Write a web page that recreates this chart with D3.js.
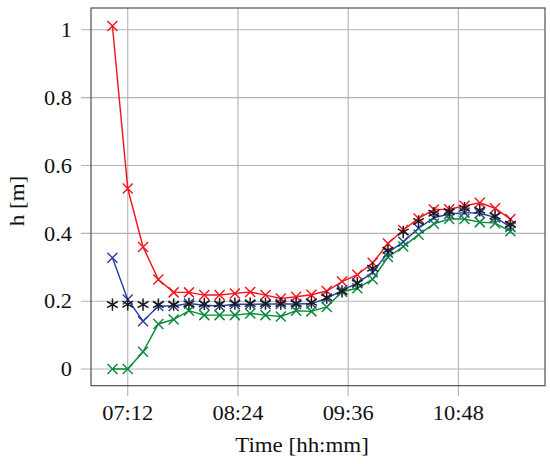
<!DOCTYPE html>
<html><head><meta charset="utf-8">
<script src="https://cdn.jsdelivr.net/npm/d3@7"></script>
<style>body{margin:0;background:#fff}svg{display:block}text{font-family:"Liberation Serif","Times New Roman",serif;fill:#111}</style>
</head><body><svg id="c" width="550" height="464"></svg>
<script>
const times = ["07:02","07:12","07:22","07:32","07:42","07:52","08:02","08:12","08:22","08:32","08:42","08:52","09:02","09:12","09:22","09:32","09:42","09:52","10:02","10:12","10:22","10:32","10:42","10:52","11:02","11:12","11:22"];
const redVals   = [1.011,0.532,0.360,0.264,0.226,0.226,0.218,0.218,0.223,0.227,0.218,0.208,0.213,0.219,0.230,0.258,0.278,0.313,0.370,0.410,0.444,0.470,0.471,0.481,0.490,0.474,0.442];
const blueVals  = [0.328,0.205,0.141,0.186,0.186,0.193,0.188,0.186,0.191,0.191,0.192,0.192,0.192,0.193,0.208,0.232,0.253,0.285,0.343,0.375,0.415,0.446,0.457,0.461,0.459,0.447,0.419];
const greenVals = [0.000,0.000,0.051,0.133,0.146,0.172,0.159,0.159,0.159,0.164,0.159,0.155,0.172,0.170,0.183,0.228,0.238,0.265,0.330,0.361,0.396,0.428,0.442,0.442,0.433,0.430,0.406];
const blackVals = [0.190,0.191,0.190,0.190,0.190,0.192,0.192,0.192,0.193,0.193,0.193,0.193,0.193,0.197,0.211,0.229,0.253,0.297,0.350,0.404,0.435,0.459,0.464,0.474,0.468,0.451,0.427];
const xTicks = ["07:12","08:24","09:36","10:48"];
const yTicks = [0,0.2,0.4,0.6,0.8,1];
const xDomain = ["06:48","11:44.6"];
const yDomain = [-0.049,1.064];

const toMin = s => { const [h,m] = s.split(":"); return (+h)*60 + (+m); };
const M = {left:91, right:545, top:8, bottom:385.7};
const svg = d3.select("#c");
const x = d3.scaleLinear().domain(xDomain.map(toMin)).range([M.left, M.right]);
const y = d3.scaleLinear().domain(yDomain).range([M.bottom, M.top]);
const SX = 1.12;

// grid
const g = svg.append("g");
g.selectAll(".gx").data(xTicks).join("line")
  .attr("x1", d=>x(toMin(d))).attr("x2", d=>x(toMin(d)))
  .attr("y1", M.top).attr("y2", M.bottom+10.5)
  .attr("stroke","#b3b3b3").attr("stroke-width",1.1);
g.selectAll(".gy").data(yTicks).join("line")
  .attr("y1", d=>y(d)).attr("y2", d=>y(d))
  .attr("x1", M.left-10).attr("x2", M.right)
  .attr("stroke","#b3b3b3").attr("stroke-width",1.1);

// frame
svg.append("rect").attr("x",M.left).attr("y",M.top).attr("width",M.right-M.left).attr("height",M.bottom-M.top)
  .attr("fill","none").attr("stroke","#404040").attr("stroke-width",1.1);

// tick labels
svg.selectAll(".xl").data(xTicks).join("text")
  .attr("transform", d=>`translate(${x(toMin(d))},420) scale(${SX},1)`).attr("text-anchor","middle")
  .attr("font-size",20).text(d=>d);
svg.selectAll(".yl").data(yTicks).join("text")
  .attr("transform", d=>`translate(72,${y(d)+7.2}) scale(${SX},1)`).attr("text-anchor","end")
  .attr("font-size",20).text(d=>d3.format("~g")(d));

svg.append("text").attr("transform",`translate(302,452) scale(${SX},1)`).attr("text-anchor","middle").attr("font-size",20.5).text("Time [hh:mm]");
svg.append("text").attr("transform",`translate(24,201) rotate(-90) scale(${SX},1)`).attr("text-anchor","middle").attr("font-size",20.5).text("h [m]");

const line = d3.line().x((d,i)=>x(toMin(times[i]))).y(d=>y(d));
const series = [
  {vals:redVals, color:"#f5151f"},
  {vals:blueVals, color:"#2c3f9e"},
  {vals:greenVals, color:"#0b8a3b"}
];
const plot = svg.append("g");
series.forEach(s=>{
  plot.append("path").attr("d", line(s.vals)).attr("fill","none").attr("stroke",s.color).attr("stroke-width",1.45);
});
const r = 5;
series.forEach(s=>{
  plot.selectAll(null).data(s.vals).join("path")
    .attr("transform",(d,i)=>`translate(${x(toMin(times[i]))},${y(d)})`)
    .attr("d",`M${-r},${-r}L${r},${r}M${-r},${r}L${r},${-r}`)
    .attr("stroke",s.color).attr("stroke-width",1.45).attr("fill","none");
});
const a = 6.2, c = a*Math.cos(Math.PI/6), sn = a*Math.sin(Math.PI/6);
plot.selectAll(null).data(blackVals).join("path")
  .attr("transform",(d,i)=>`translate(${x(toMin(times[i]))},${y(d)})`)
  .attr("d",`M0,${-a}L0,${a}M${-c},${-sn}L${c},${sn}M${-c},${sn}L${c},${-sn}`)
  .attr("stroke","#1a1a1a").attr("stroke-width",1.5).attr("fill","none");
</script></body></html>
